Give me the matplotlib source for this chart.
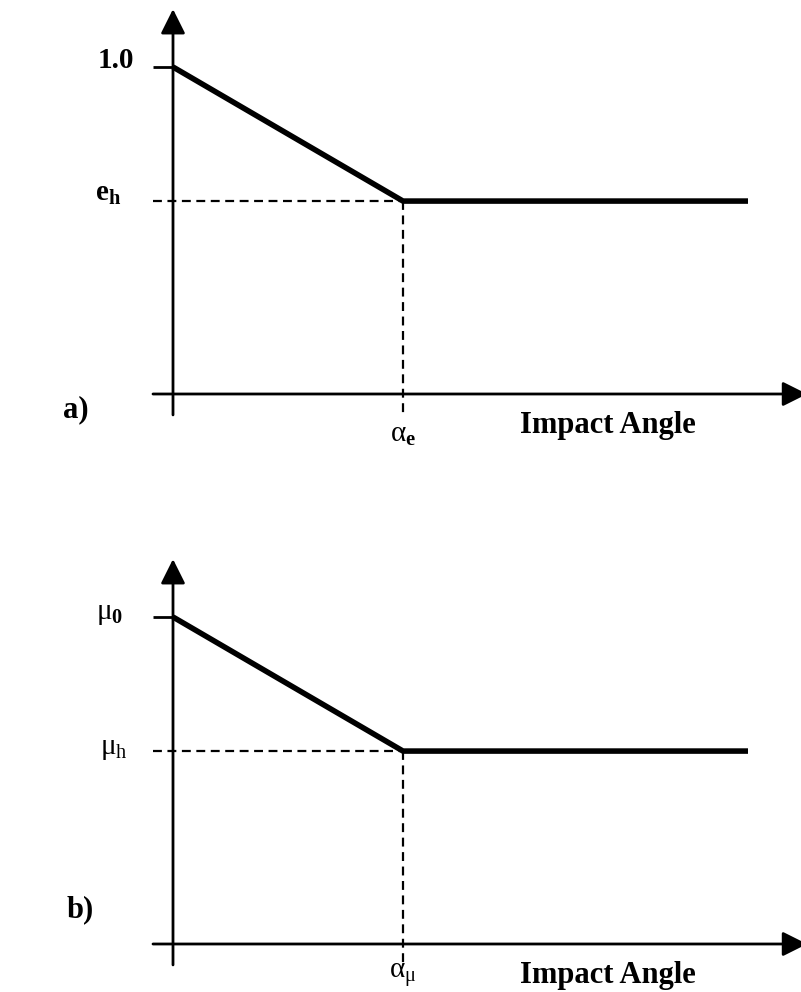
import matplotlib.pyplot as plt

# coefficient of restitution / friction vs impact angle (angle scaled so the knee is at 1)
angle = [0.0, 1.0, 2.5]
e_coef = [1.0, 0.59, 0.59]
mu_coef = [1.0, 0.59, 0.59]

W, H, DPI = 801, 992, 100
SX, SY = 230.0, 327.0   # pixels per data unit

plt.rcParams['font.family'] = 'Liberation Serif'
plt.rcParams['mathtext.fontset'] = 'custom'
plt.rcParams['mathtext.rm'] = 'Liberation Serif'
plt.rcParams['mathtext.bf'] = 'Liberation Serif:bold'
plt.rcParams['mathtext.it'] = 'Liberation Serif:italic'

fig = plt.figure(figsize=(W / DPI, H / DPI), dpi=DPI)


def make_panel(top, bot, ox, oy):
    ax = fig.add_axes([0, 1 - bot / H, 1, (bot - top) / H])
    ax.set_xlim(-ox / SX, (W - ox) / SX)
    ax.set_ylim((oy - bot) / SY, (oy - top) / SY)
    ax.axis('off')
    return ax


def draw_panel(ax, y, top_lbl, low_lbl, knee_lbl, tag, tag_off, top_off, low_off, knee_dy):
    arrow = dict(arrowstyle='-|>,head_length=1.0,head_width=0.5', mutation_scale=15,
                 lw=2, color='k', shrinkA=0, shrinkB=0)
    # axes with arrow heads
    ax.annotate('', xy=(0, 1.177), xytext=(0, -0.064), arrowprops=arrow,
                annotation_clip=False)
    ax.annotate('', xy=(2.757, 0), xytext=(-0.087, 0), arrowprops=arrow,
                annotation_clip=False)
    # tick at the top value
    ax.plot([-0.087, 0], [y[0], y[0]], color='k', lw=2, solid_capstyle='butt')
    # guide lines to the knee
    ax.plot([-0.087, angle[1]], [y[1], y[1]], color='k', lw=1.6, linestyle=(0, (4, 2.5)))
    ax.plot([angle[1], angle[1]], [y[1], -0.07], color='k', lw=1.6, linestyle=(0, (4, 2.5)))
    # the curve
    ax.plot(angle, y, color='k', lw=4, solid_joinstyle='miter', solid_capstyle='butt')

    ax.annotate(top_lbl, xy=(0, y[0]), xytext=top_off, textcoords='offset pixels',
                ha='right', va='baseline', fontsize=21, fontweight='bold')
    ax.annotate(low_lbl, xy=(0, y[1]), xytext=low_off, textcoords='offset pixels',
                ha='right', va='baseline', fontsize=21, fontweight='bold')
    ax.annotate(knee_lbl, xy=(angle[1], 0), xytext=(0, knee_dy), textcoords='offset pixels',
                ha='center', va='top', fontsize=21)
    ax.annotate('Impact Angle', xy=(angle[1], 0), xytext=(117, -39),
                textcoords='offset pixels', ha='left', va='baseline',
                fontsize=22, fontweight='bold')
    ax.annotate(tag, xy=(0, 0), xytext=tag_off, textcoords='offset pixels',
                ha='left', va='center', fontsize=22, fontweight='bold')


ax_a = make_panel(0, 490, 173, 394)
draw_panel(ax_a, e_coef, '1.0', r'$\mathbf{e_h}$', r'$\mathrm{\alpha}_\mathbf{e}$',
           'a)', (-110, -16), (-39, -1), (-52, 0), -28)

ax_b = make_panel(490, 992, 173, 944)
draw_panel(ax_b, mu_coef, r'$\mathrm{\mu}_\mathbf{0}$', r'$\mathrm{\mu}_\mathrm{h}$',
           r'$\mathrm{\alpha}_\mathrm{\mu}$', 'b)', (-106, 34), (-50, -2), (-45, -3), -17)

fig.savefig('out.png', dpi=DPI)
